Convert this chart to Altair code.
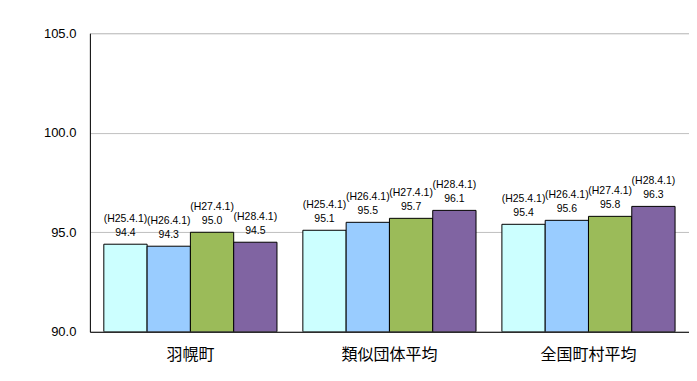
import altair as alt
import pandas as pd

groups = ["羽幌町", "類似団体平均", "全国町村平均"]
periods = ["(H25.4.1)", "(H26.4.1)", "(H27.4.1)", "(H28.4.1)"]
values = [
    [94.4, 94.3, 95.0, 94.5],
    [95.1, 95.5, 95.7, 96.1],
    [95.4, 95.6, 95.8, 96.3],
]
colors = ["#CCFFFF", "#99CCFF", "#9BBB59", "#8064A2"]

rows = []
for g, vals in zip(groups, values):
    for p, v in zip(periods, vals):
        rows.append({"group": g, "period": p, "value": v, "vlabel": f"{v:.1f}"})
df = pd.DataFrame(rows)

x = alt.X("group:N", sort=groups, title=None,
          scale=alt.Scale(paddingInner=0.13, paddingOuter=0.07),
          axis=alt.Axis(labelAngle=0, labelFontSize=16, labelFont="Noto Sans CJK JP",
                        labelColor="#000000", labelPadding=15, ticks=False,
                        domainColor="#000000", domainWidth=1))
xo = alt.XOffset("period:N", sort=periods, scale=alt.Scale(paddingInner=0, paddingOuter=0))
y = alt.Y("value:Q", title=None,
          scale=alt.Scale(domain=[90, 105], zero=False, nice=False),
          axis=alt.Axis(values=[90, 95, 100, 105], format=".1f", labelFontSize=13,
                        labelFont="Liberation Sans", labelColor="#000000",
                        labelPadding=14, ticks=False, gridColor="#C0C0C0",
                        domainColor="#000000", domainWidth=1))

base = alt.Chart(df)

bars = base.mark_bar(stroke="#000000", strokeWidth=1, clip=True).encode(
    x=x, xOffset=xo, y=y, y2=alt.datum(90),
    color=alt.Color("period:N", sort=periods,
                    scale=alt.Scale(domain=periods, range=colors), legend=None),
)

lab_val = base.mark_text(fontSize=10.5, font="Liberation Sans", baseline="bottom", dy=-6,
                         color="#000000").encode(
    x=x, xOffset=xo, y=y, text="vlabel:N")
lab_per = base.mark_text(fontSize=10.5, font="Liberation Sans", baseline="bottom", dy=-20,
                         color="#000000").encode(
    x=x, xOffset=xo, y=y, text="period:N")

chart = (bars + lab_val + lab_per).properties(
    width=600, height=299,
    autosize=alt.AutoSizeParams(type="none"),
    padding={"left": 82, "top": 25, "right": 0, "bottom": 40},
).configure_view(stroke=None).configure(background="#FFFFFF")

chart.save("out.html", embed_options={"renderer": "svg", "actions": False})
